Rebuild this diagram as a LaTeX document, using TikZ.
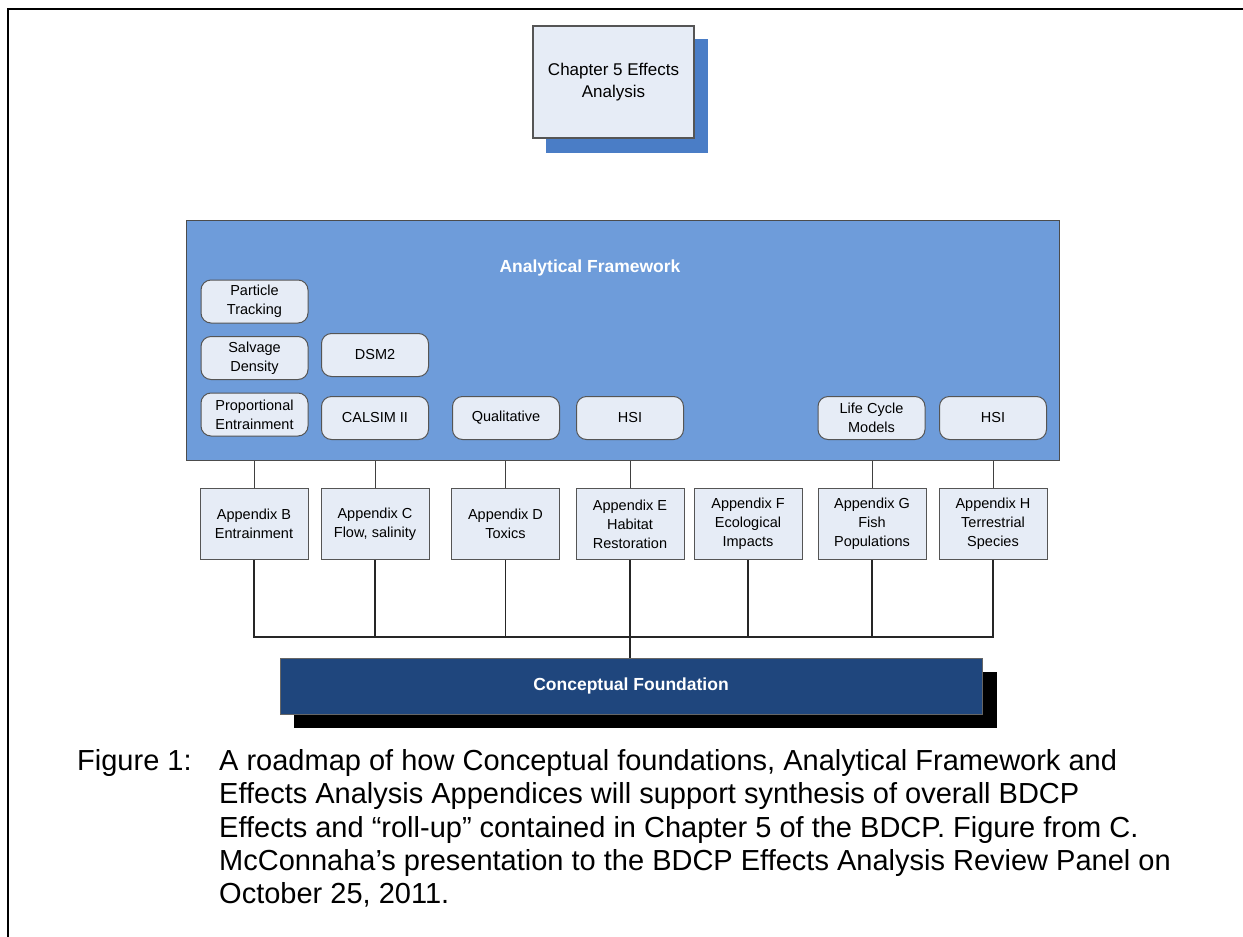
\documentclass[tikz,border=0pt]{standalone}
\usepackage{fontspec}
\setmainfont{Liberation Sans}
\definecolor{boxfill}{HTML}{E6ECF6}
\definecolor{boxline}{HTML}{555555}
\definecolor{fwfill}{HTML}{6E9CDA}
\definecolor{chshadow}{HTML}{4A7DC6}
\definecolor{cffill}{HTML}{1F467D}
\begin{document}
\begin{tikzpicture}[x=1pt,y=-1pt,
  sq/.style={draw=boxline,fill=boxfill,line width=1pt,minimum width=108pt,minimum height=71pt,
    align=center,inner sep=2pt,font=\fontsize{14.5}{19}\selectfont},
  rb/.style={draw=boxline,fill=boxfill,line width=1pt,rounded corners=10pt,minimum width=107pt,
    minimum height=43pt,align=center,inner sep=2pt,font=\fontsize{14.5}{19}\selectfont},
  link/.style={draw=black!75,line width=1pt},
  bus/.style={draw=black!85,line width=1.4pt},
  captxt/.style={anchor=base west,inner sep=0pt,font=\fontsize{29}{33}\selectfont}]
\useasboundingbox (0,0) rectangle (1243,937);
\fill[white] (0,0) rectangle (1243,937);
% outer frame
\draw[line width=2pt] (1250,9) -- (8,9) -- (8,945);
% chapter box
\fill[chshadow] (546,39) rectangle (708,153);
\node[draw=boxline,fill=boxfill,line width=1.2pt,minimum width=161pt,minimum height=112pt,
  align=center,font=\fontsize{17}{22}\selectfont] (ch) at (613.5,82) {Chapter 5 Effects\\Analysis};
% analytical framework
\node[draw=black!70,fill=fwfill,line width=1pt,minimum width=873pt,minimum height=240pt,inner sep=0pt]
  (fw) at (622.5,340) {};
\node[text=white,font=\bfseries\fontsize{17.5}{20}\selectfont] (fwt) at (590,268) {Analytical Framework};
\node[rb] (pt) at (254.5,301.5) {Particle\\Tracking};
\node[rb] (sd) at (254.5,358) {Salvage\\Density};
\node[rb] (pe) at (254.5,414.5) {Proportional\\Entrainment};
\node[rb] (dsm) at (375,355) {DSM2};
\node[rb] (cal) at (375,418) {CALSIM II};
\node[rb] (qual) at (506,418) {Qualitative};
\node[rb] (hsia) at (630,418) {HSI};
\node[rb] (lcm) at (871.5,418) {Life Cycle\\Models};
\node[rb] (hsib) at (993,418) {HSI};
% appendices
\node[sq] (B) at (254,524) {Appendix B\\Entrainment};
\node[sq] (C) at (375,524) {Appendix C\\Flow, salinity};
\node[sq] (D) at (505.5,524) {Appendix D\\Toxics};
\node[sq] (E) at (630,524) {Appendix E\\Habitat\\Restoration};
\node[sq] (F) at (748,524) {Appendix F\\Ecological\\Impacts};
\node[sq] (G) at (872,524) {Appendix G\\Fish\\Populations};
\node[sq] (H) at (993,524) {Appendix H\\Terrestrial\\Species};
% conceptual foundation
\fill[black] (294,672) rectangle (997,728);
\node[draw=black!60,fill=cffill,line width=0.8pt,minimum width=702pt,minimum height=56pt,
  text=white,font=\bfseries\fontsize{17.5}{20}\selectfont] (cf) at (631,686) {Conceptual Foundation};
% upper connectors
\foreach \n in {B,C,D,E,G,H} \draw[link] (\n.north) -- (\n.north |- fw.south);
% bus
\coordinate (busy) at (0,637);
\draw[bus] (B.south) -- (B.south |- busy) -- (H.south |- busy) -- (H.south);
\foreach \n in {C,D,E,F,G} \draw[bus] (\n.south) -- (\n.south |- busy);
\draw[bus] (E.south |- busy) -- (E.south |- cf.north);
% caption
\node[captxt] (fig) at (77,770.5) {Figure 1:};
\node[captxt] (l1) at (219,770.5) {A roadmap of how Conceptual foundations, Analytical Framework and};
\node[captxt] (l2) at (219,803.8) {Effects Analysis Appendices will support synthesis of overall BDCP};
\node[captxt] (l3) at (219,837) {Effects and “roll-up” contained in Chapter 5 of the BDCP. Figure from C.};
\node[captxt] (l4) at (219,870.3) {McConnaha’s presentation to the BDCP Effects Analysis Review Panel on};
\node[captxt] (l5) at (219,903.5) {October 25, 2011.};
\end{tikzpicture}
\end{document}
